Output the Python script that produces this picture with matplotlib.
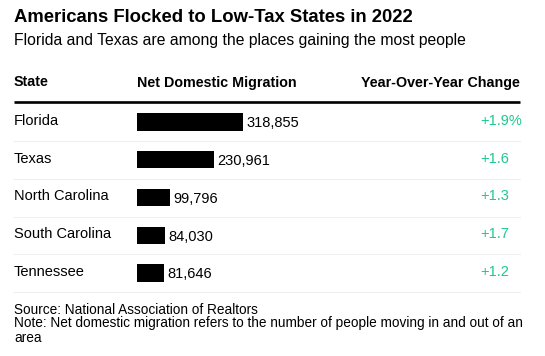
import matplotlib
matplotlib.use("Agg")
import matplotlib.pyplot as plt

plt.rcParams["font.family"] = ["Liberation Sans", "DejaVu Sans"]

# data
states = ["Florida", "Texas", "North Carolina", "South Carolina", "Tennessee"]
migration = [318855, 230961, 99796, 84030, 81646]
yoy_labels = ["+1.9%", "+1.6", "+1.3", "+1.7", "+1.2"]

title = "Americans Flocked to Low-Tax States in 2022"
subtitle = "Florida and Texas are among the places gaining the most people"
headers = ["State", "Net Domestic Migration", "Year-Over-Year Change"]
footer = ["Source: National Association of Realtors",
          "Note: Net domestic migration refers to the number of people moving in and out of an",
          "area"]

W, H = 545, 356
GREEN = "#1ec98f"

fig = plt.figure(figsize=(W / 100, H / 100), dpi=100)

# overlay in pixel coords for the text and rules
ax = fig.add_axes([0, 0, 1, 1])
ax.set_xlim(0, W)
ax.set_ylim(H, 0)
ax.axis("off")

ax.text(14, 22, title, fontsize=13.3, fontweight="bold", va="baseline", ha="left")
ax.text(14, 44.5, subtitle, fontsize=11.3, va="baseline", ha="left")

ax.text(14, 86.5, headers[0], fontsize=10.3, fontweight="bold", va="baseline")
ax.text(137, 86.5, headers[1], fontsize=10.3, fontweight="bold", va="baseline")
ax.text(520, 86.5, headers[2], fontsize=10.3, fontweight="bold", va="baseline", ha="right")
ax.plot([14, 520], [102, 102], color="black", lw=1.9, solid_capstyle="butt")

row0 = 122
step = 37.75
for i, (s, lab) in enumerate(zip(states, yoy_labels)):
    y = row0 + step * i
    ax.text(14, y - 1, s, fontsize=10.5, va="center", ha="left")
    ax.text(480, y - 1, lab, fontsize=10.5, va="center", ha="left", color=GREEN)
    ax.plot([14, 520], [y + 19, y + 19], color="#efefef", lw=0.8)

for k, line in enumerate(footer):
    ax.text(14, 313.5 + 14 * k, line, fontsize=9.8, va="baseline")

# bars
top = row0 - step / 2
bax = fig.add_axes([137 / W, 1 - (top + 5 * step) / H, 105.8 / W, 5 * step / H])
bax.barh(range(len(states)), migration, height=0.46, color="black")
bax.set_xlim(0, max(migration))
bax.set_ylim(4.5, -0.5)
bax.axis("off")
for i, v in enumerate(migration):
    bax.annotate(f"{v:,}", (v, i), xytext=(2.6, -1), textcoords="offset points",
                 va="center", ha="left", fontsize=10.5, annotation_clip=False)

fig.savefig("out.png", dpi=100)
